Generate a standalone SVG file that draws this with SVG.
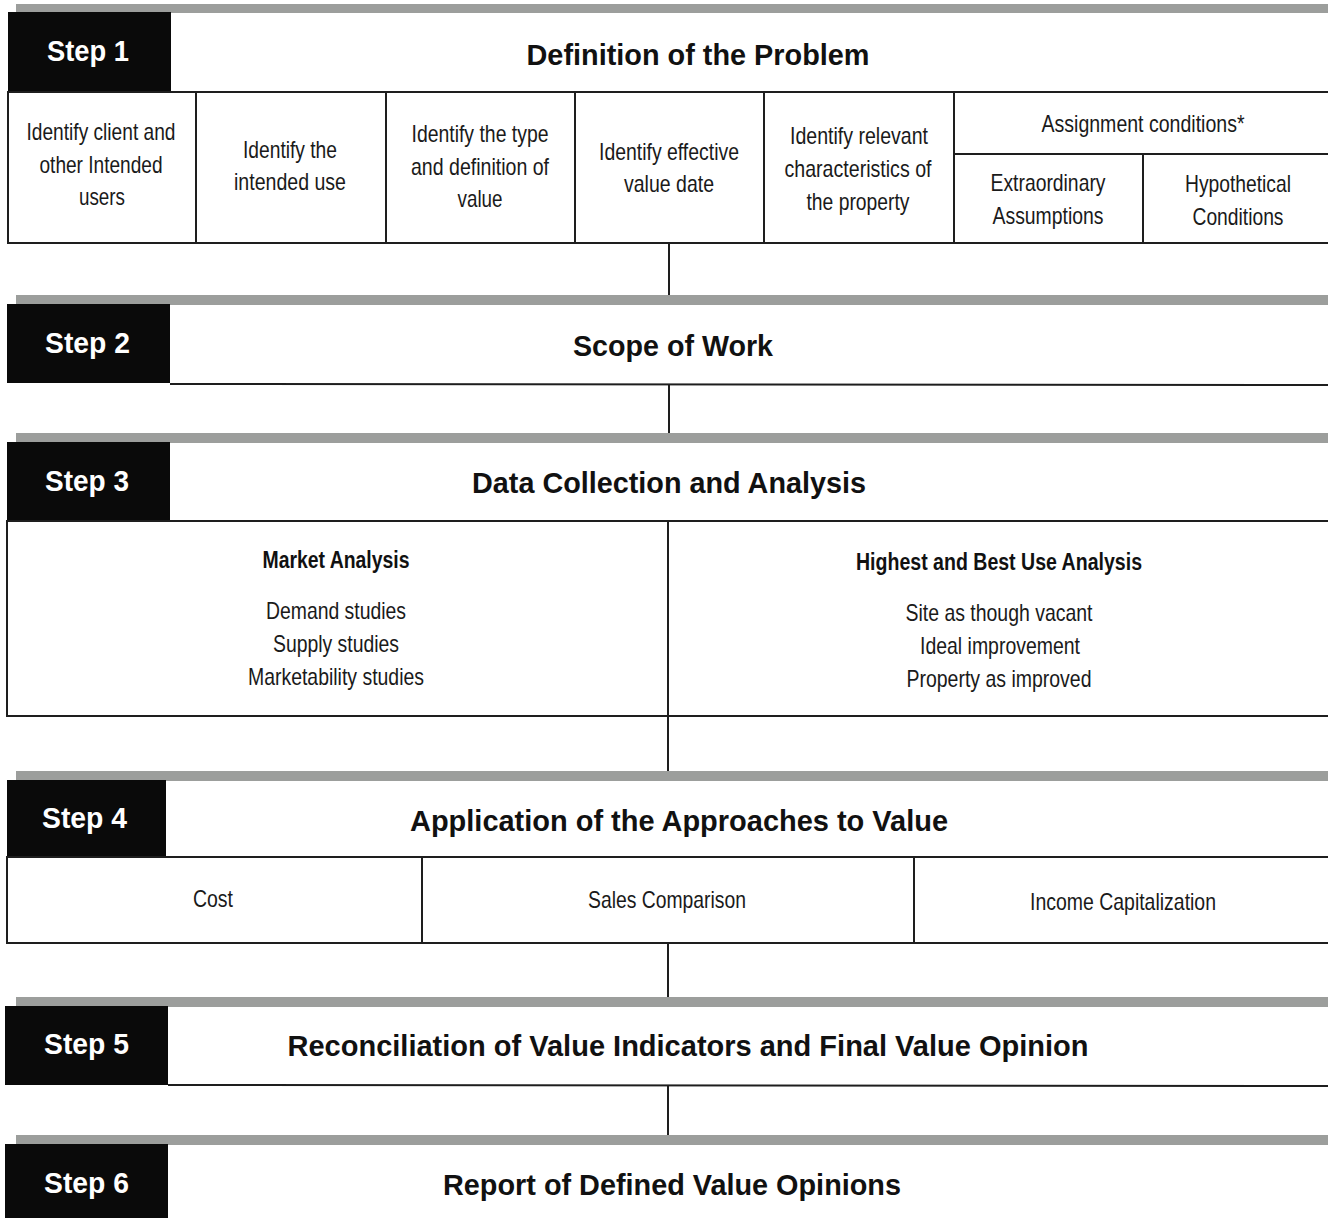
<svg xmlns="http://www.w3.org/2000/svg" width="1328" height="1218" viewBox="0 0 1328 1218">
<style>
.band{fill:#9c9e9c}
.blk{fill:#0a0a0a}
.ln{stroke:#1e1e1e;stroke-width:2;fill:none}
.cell{fill:#fff;stroke:#1e1e1e;stroke-width:2}
.step{font-family:"Liberation Sans",Arial,sans-serif;font-weight:bold;font-size:29px;fill:#fff}
.title{font-family:"Liberation Sans",Arial,sans-serif;font-weight:bold;font-size:30px;fill:#111;text-anchor:middle}
.t{font-family:"Liberation Sans Narrow","Liberation Sans",Arial,sans-serif;font-size:24px;fill:#1a1a1a;text-anchor:middle}
.tb{font-family:"Liberation Sans Narrow","Liberation Sans",Arial,sans-serif;font-size:23px;font-weight:bold;fill:#111;text-anchor:middle}
</style>
<rect width="1328" height="1218" fill="#fff"/>

<g id="connectors">
<line class="ln" x1="669" y1="243" x2="669" y2="305"/>
<line class="ln" x1="669" y1="384" x2="669" y2="443"/>
<line class="ln" x1="668" y1="716" x2="668" y2="781"/>
<line class="ln" x1="668" y1="943" x2="668" y2="1006"/>
<line class="ln" x1="668" y1="1085" x2="668" y2="1145"/>
</g>

<g id="step1">
<rect class="band" x="16" y="4" width="1312" height="9"/>
<rect class="blk" x="8" y="12" width="163" height="79"/>
<text class="step" x="47" y="61" textLength="82" lengthAdjust="spacingAndGlyphs">Step 1</text>
<text class="title" x="698" y="65" textLength="343" lengthAdjust="spacingAndGlyphs">Definition of the Problem</text>
<rect class="cell" x="8" y="92" width="1330" height="151"/>
<line class="ln" x1="196" y1="92" x2="196" y2="243"/>
<line class="ln" x1="386" y1="92" x2="386" y2="243"/>
<line class="ln" x1="575" y1="92" x2="575" y2="243"/>
<line class="ln" x1="764" y1="92" x2="764" y2="243"/>
<line class="ln" x1="954" y1="92" x2="954" y2="243"/>
<line class="ln" x1="954" y1="154" x2="1328" y2="154"/>
<line class="ln" x1="1143" y1="154" x2="1143" y2="243"/>
<text class="t" x="101" y="140" textLength="149" lengthAdjust="spacingAndGlyphs">Identify client and</text>
<text class="t" x="101" y="173" textLength="123" lengthAdjust="spacingAndGlyphs">other Intended</text>
<text class="t" x="102" y="205" textLength="46" lengthAdjust="spacingAndGlyphs">users</text>
<text class="t" x="290" y="158" textLength="94" lengthAdjust="spacingAndGlyphs">Identify the</text>
<text class="t" x="290" y="190" textLength="112" lengthAdjust="spacingAndGlyphs">intended use</text>
<text class="t" x="480" y="142" textLength="137" lengthAdjust="spacingAndGlyphs">Identify the type</text>
<text class="t" x="480" y="175" textLength="138" lengthAdjust="spacingAndGlyphs">and definition of</text>
<text class="t" x="480" y="207" textLength="45" lengthAdjust="spacingAndGlyphs">value</text>
<text class="t" x="669" y="160" textLength="140" lengthAdjust="spacingAndGlyphs">Identify effective</text>
<text class="t" x="669" y="192" textLength="90" lengthAdjust="spacingAndGlyphs">value date</text>
<text class="t" x="859" y="144" textLength="138" lengthAdjust="spacingAndGlyphs">Identify relevant</text>
<text class="t" x="858" y="177" textLength="147" lengthAdjust="spacingAndGlyphs">characteristics of</text>
<text class="t" x="858" y="210" textLength="103" lengthAdjust="spacingAndGlyphs">the property</text>
<text class="t" x="1143" y="132" textLength="203" lengthAdjust="spacingAndGlyphs">Assignment conditions*</text>
<text class="t" x="1048" y="191" textLength="115" lengthAdjust="spacingAndGlyphs">Extraordinary</text>
<text class="t" x="1048" y="224" textLength="111" lengthAdjust="spacingAndGlyphs">Assumptions</text>
<text class="t" x="1238" y="192" textLength="106" lengthAdjust="spacingAndGlyphs">Hypothetical</text>
<text class="t" x="1238" y="225" textLength="91" lengthAdjust="spacingAndGlyphs">Conditions</text>
</g>

<g id="step2">
<rect class="band" x="16" y="295" width="1312" height="10"/>
<rect class="blk" x="7" y="304" width="163" height="79"/>
<line class="ln" x1="170" y1="384" x2="1328" y2="385"/>
<text class="step" x="45" y="353" textLength="85" lengthAdjust="spacingAndGlyphs">Step 2</text>
<text class="title" x="673" y="356" textLength="200" lengthAdjust="spacingAndGlyphs">Scope of Work</text>
</g>

<g id="step3">
<rect class="band" x="16" y="433" width="1312" height="10"/>
<rect class="blk" x="7" y="442" width="163" height="79"/>
<text class="step" x="45" y="491" textLength="84" lengthAdjust="spacingAndGlyphs">Step 3</text>
<text class="title" x="669" y="493" textLength="394" lengthAdjust="spacingAndGlyphs">Data Collection and Analysis</text>
<rect class="cell" x="7" y="521" width="1331" height="195"/>
<line class="ln" x1="668" y1="521" x2="668" y2="716"/>
<text class="tb" x="336" y="568" textLength="147" lengthAdjust="spacingAndGlyphs">Market Analysis</text>
<text class="t" x="336" y="619" textLength="140" lengthAdjust="spacingAndGlyphs">Demand studies</text>
<text class="t" x="336" y="652" textLength="126" lengthAdjust="spacingAndGlyphs">Supply studies</text>
<text class="t" x="336" y="685" textLength="176" lengthAdjust="spacingAndGlyphs">Marketability studies</text>
<text class="tb" x="999" y="570" textLength="286" lengthAdjust="spacingAndGlyphs">Highest and Best Use Analysis</text>
<text class="t" x="999" y="621" textLength="187" lengthAdjust="spacingAndGlyphs">Site as though vacant</text>
<text class="t" x="1000" y="654" textLength="160" lengthAdjust="spacingAndGlyphs">Ideal improvement</text>
<text class="t" x="999" y="687" textLength="185" lengthAdjust="spacingAndGlyphs">Property as improved</text>
</g>

<g id="step4">
<rect class="band" x="16" y="771" width="1312" height="10"/>
<rect class="blk" x="7" y="780" width="159" height="77"/>
<text class="step" x="42" y="828" textLength="85" lengthAdjust="spacingAndGlyphs">Step 4</text>
<text class="title" x="679" y="831" textLength="538" lengthAdjust="spacingAndGlyphs">Application of the Approaches to Value</text>
<rect class="cell" x="7" y="857" width="1331" height="86"/>
<line class="ln" x1="422" y1="857" x2="422" y2="943"/>
<line class="ln" x1="914" y1="857" x2="914" y2="943"/>
<text class="t" x="213" y="907" textLength="40" lengthAdjust="spacingAndGlyphs">Cost</text>
<text class="t" x="667" y="908" textLength="158" lengthAdjust="spacingAndGlyphs">Sales Comparison</text>
<text class="t" x="1123" y="910" textLength="186" lengthAdjust="spacingAndGlyphs">Income Capitalization</text>
</g>

<g id="step5">
<rect class="band" x="16" y="997" width="1312" height="10"/>
<rect class="blk" x="5" y="1006" width="163" height="79"/>
<line class="ln" x1="168" y1="1085" x2="1328" y2="1086"/>
<text class="step" x="44" y="1054" textLength="85" lengthAdjust="spacingAndGlyphs">Step 5</text>
<text class="title" x="688" y="1056" textLength="801" lengthAdjust="spacingAndGlyphs">Reconciliation of Value Indicators and Final Value Opinion</text>
</g>

<g id="step6">
<rect class="band" x="16" y="1135" width="1312" height="10"/>
<rect class="blk" x="5" y="1144" width="163" height="74"/>
<text class="step" x="44" y="1193" textLength="85" lengthAdjust="spacingAndGlyphs">Step 6</text>
<text class="title" x="672" y="1195" textLength="458" lengthAdjust="spacingAndGlyphs">Report of Defined Value Opinions</text>
</g>
</svg>
